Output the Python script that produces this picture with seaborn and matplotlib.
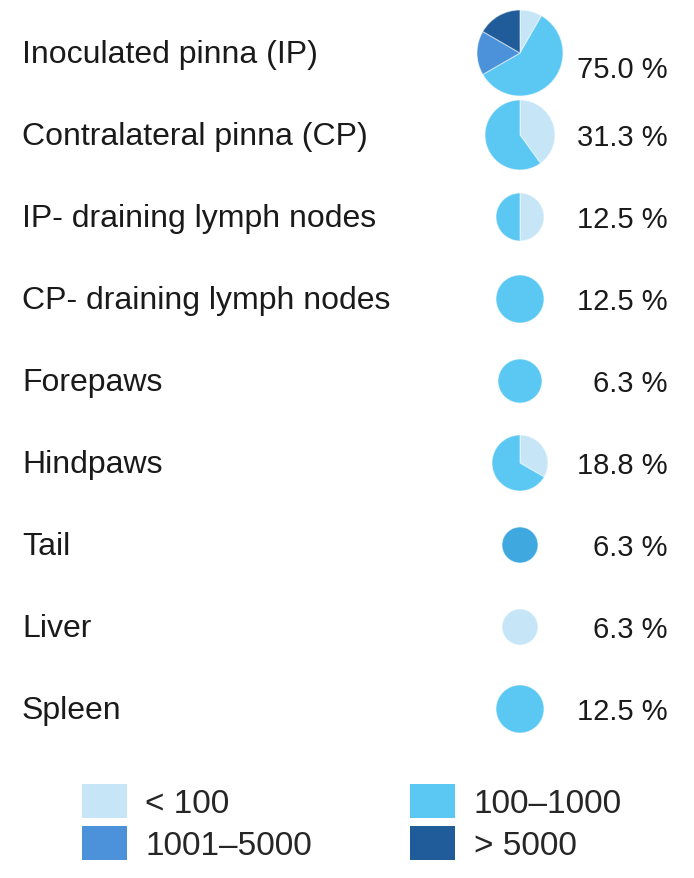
import matplotlib
matplotlib.use("Agg")
import matplotlib.pyplot as plt
from matplotlib.patches import Patch
import seaborn as sns

# tissues, top to bottom
tissues = ["Inoculated pinna (IP)", "Contralateral pinna (CP)", "IP - draining lymph nodes",
           "CP - draining lymph nodes", "Forepaws", "Hindpaws", "Tail", "Liver", "Spleen"]
pct_positive = [75.0, 31.3, 12.5, 12.5, 6.3, 18.8, 6.3, 6.3, 12.5]

# number of positive mice per load class: <100, 100-1000, 1001-5000, >5000
n_low = [1, 2, 1, 0, 0, 1, 0, 1, 0]
n_mid = [7, 3, 1, 2, 1, 2, 0, 0, 2]
n_high = [2, 0, 0, 0, 0, 0, 1, 0, 0]
n_vhigh = [2, 0, 0, 0, 0, 0, 0, 0, 0]

# pie radius as drawn (px)
pie_radius = [43, 35, 24, 24, 22, 28, 18, 18, 24]

load_classes = ["< 100", "100\u20131000", "1001\u20135000", "> 5000"]
palette = sns.color_palette(["#c6e6f8", "#5bc8f4", "#4b92db", "#1f5c99"])
tail_colour = "#3ea8df"

sns.set_style("white")
plt.rcParams["font.family"] = ["Liberation Sans", "DejaVu Sans"]

W, H = 694, 879
fig = plt.figure(figsize=(W / 100, H / 100), dpi=100)
ax = fig.add_axes([0, 0, 1, 1])

row_top, row_step = 54, 82
pie_x, label_x, pct_x = 520, 22, 668

for i, name in enumerate(tissues):
    y = H - (row_top + i * row_step)
    counts = [n_low[i], n_mid[i], n_high[i], n_vhigh[i]]
    cols = [c for c, n in zip(palette, counts) if n > 0]
    vals = [n for n in counts if n > 0]
    if name == "Tail":
        cols = [tail_colour]
    ax.pie(vals, colors=cols, center=(pie_x, y), radius=pie_radius[i],
           startangle=90, counterclock=False, frame=True,
           wedgeprops=dict(edgecolor=(1, 1, 1, 0.5), linewidth=0.8))
    ax.text(label_x, y - 1, name.replace(" - ", "- "), fontsize=23, va="center", ha="left",
            color="#1a1a1a")
    dy = -16 if i == 0 else -2
    ax.text(pct_x, y + dy, f"{pct_positive[i]:.1f} %", fontsize=21, va="center", ha="right",
            color="#1a1a1a")

ax.set_xlim(0, W)
ax.set_ylim(0, H)
ax.set_aspect("equal")
ax.axis("off")

handles = [Patch(facecolor=c, edgecolor="none") for c in palette]
order = [0, 2, 1, 3]
fig.legend([handles[k] for k in order], [load_classes[k] for k in order],
           ncol=2, loc="upper left", bbox_to_anchor=(82 / W, 1 - 785 / H),
           frameon=False, fontsize=24, handlelength=1.35, handleheight=1.2,
           handletextpad=0.55, columnspacing=2.95, labelspacing=0.2, borderpad=0,
           borderaxespad=0)

fig.savefig("out.png", dpi=100, facecolor="white")
